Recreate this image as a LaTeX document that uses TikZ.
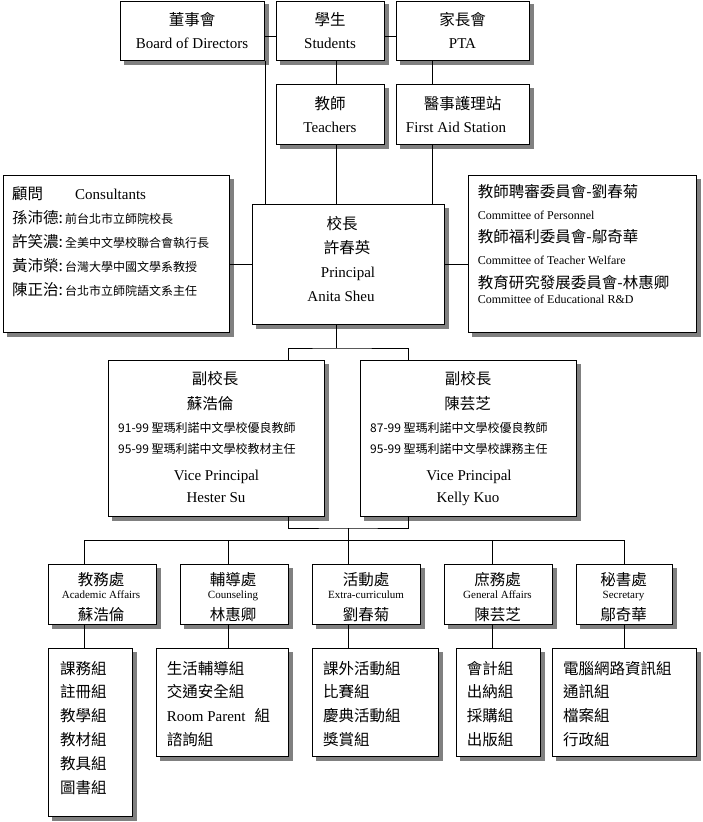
\documentclass[tikz,border=0pt]{standalone}
\usepackage{fontspec}
\setmainfont{Liberation Serif}
\newfontfamily\cjk{Noto Sans CJK TC}
\usetikzlibrary{backgrounds}
\definecolor{shgray}{RGB}{128,128,128}
\tikzset{
  bx/.style={draw=black, line width=1pt, fill=white, inner sep=0pt, anchor=north west},
  shadowbox/.style={fill=shgray, draw=none},
  conn/.style={draw, line width=1pt},
  txt/.style={inner sep=0pt, anchor=base},
  ltxt/.style={inner sep=0pt, anchor=base west},
  zh/.style={font=\cjk\fontsize{15.5}{18}\selectfont},
  zhs/.style={font=\cjk\fontsize{12}{14}\selectfont},
  en/.style={font=\fontsize{15}{18}\selectfont},
  ens/.style={font=\fontsize{12}{14}\selectfont},
  enx/.style={font=\fontsize{11}{13}\selectfont},
}
\newcommand{\mkbox}[5]{%
  \node[bx, minimum width={(#4-#2)*1pt}, minimum height={(#5-#3)*1pt}] (#1) at (#2,#3) {};%
  \begin{pgfonlayer}{background}%
    \fill[shadowbox] ([xshift=3.5pt,yshift=-3.5pt]#1.north west) rectangle ([xshift=4pt,yshift=-4pt]#1.south east);%
  \end{pgfonlayer}}
\begin{document}
\begin{tikzpicture}[x=1pt,y=-1pt]
\useasboundingbox (0,0) rectangle (702,822);
% ---------- boxes ----------
\mkbox{board}{120}{0.5}{264}{60}
\mkbox{students}{276}{0.5}{384}{60}
\mkbox{pta}{396}{0.5}{529}{60}
\mkbox{teachers}{276}{84}{384}{144}
\mkbox{firstaid}{396}{84}{529}{144}
\mkbox{consult}{3}{175}{229}{332}
\mkbox{principal}{252}{204}{444}{324}
\mkbox{committee}{468}{175}{696}{332}
\mkbox{vp1}{108}{360}{324}{516}
\mkbox{vp2}{360}{360}{576}{516}
\mkbox{d1}{48}{564}{156}{624}
\mkbox{d2}{180}{564}{288}{624}
\mkbox{d3}{312}{564}{420}{624}
\mkbox{d4}{444}{564}{552}{624}
\mkbox{d5}{576}{564}{672}{624}
\mkbox{s1}{48}{648}{132}{816}
\mkbox{s2}{156}{648}{288}{756}
\mkbox{s3}{312}{648}{438}{756}
\mkbox{s4}{456}{648}{540}{756}
\mkbox{s5}{552}{648}{696}{756}
% ---------- helper coordinates ----------
\coordinate (yT) at (0,36);
\coordinate (yM) at (0,264);
\coordinate (cS) at (336,0);
\coordinate (cP) at (432,0);
\coordinate (j1) at (336,348);
\coordinate (j2) at (348,528);
\coordinate (xv1) at (288,0);
\coordinate (xv2) at (408,0);
\coordinate (bus) at (0,540);
\coordinate (x1) at (84,0);
\coordinate (x2) at (228,0);
\coordinate (x3) at (348,0);
\coordinate (x4) at (492,0);
\coordinate (x5) at (624,0);
% ---------- connectors ----------
\draw[conn] (board.east |- yT) -- (students.west |- yT);
\draw[conn] (students.east |- yT) -- (pta.west |- yT);
\draw[conn] (students.south -| cS) -- (teachers.north -| cS);
\draw[conn] (pta.south -| cP) -- (firstaid.north -| cP);
\draw[conn] (board.south east) -- (principal.north -| board.south east);
\draw[conn] (teachers.south -| cS) -- (principal.north -| cS);
\draw[conn] (firstaid.south -| cP) -- (principal.north -| cP);
\draw[conn] (consult.east |- yM) -- (principal.west |- yM);
\draw[conn] (principal.east |- yM) -- (committee.west |- yM);
\draw[conn] (principal.south -| j1) -- (j1);
\draw[conn] (vp1.north -| xv1) |- (j1) -| (vp2.north -| xv2);
\draw[conn] (vp1.south -| xv1) |- (j2) -| (vp2.south -| xv2);
\draw[conn] (j2) -- (d3.north -| j2);
\draw[conn] (d1.north -| x1) -- (bus -| x1) -- (bus -| x5) -- (d5.north -| x5);
\draw[conn] (bus -| x2) -- (d2.north -| x2);
\draw[conn] (bus -| x4) -- (d4.north -| x4);
\draw[conn] (d1.south -| x1) -- (s1.north -| x1);
\draw[conn] (d2.south -| x2) -- (s2.north -| x2);
\draw[conn] (d3.south -| x3) -- (s3.north -| x3);
\draw[conn] (d4.south -| x4) -- (s4.north -| x4);
\draw[conn] (d5.south -| x5) -- (s5.north -| x5);
% ---------- top texts ----------
\node[txt,zh] (t1a) at (192,25) {董事會};
\node[txt,en] (t1b) at (192,48) {Board of Directors};
\node[txt,zh] (t2a) at (330,25) {學生};
\node[txt,en] (t2b) at (330,48) {Students};
\node[txt,zh] (t3a) at (462.5,25) {家長會};
\node[txt,en] (t3b) at (462.5,48) {PTA};
\node[txt,zh] (t4a) at (330,109) {教師};
\node[txt,en] (t4b) at (330,132) {Teachers};
\node[txt,zh] (t5a) at (462.5,109) {醫事護理站};
\node[txt,en] (t5b) at (456,132) {First Aid Station};
% ---------- consultants ----------
\node[ltxt,zh] (co1) at (12,199) {顧問};
\node[ltxt,en] (co1b) at (75,199) {Consultants};
\node[ltxt,zh] (co2) at (12,223) {孫沛德:\hspace{2pt}{\fontsize{12}{14}\selectfont 前台北市立師院校長}};
\node[ltxt,zh] (co3) at (12,247) {許笑濃:\hspace{2pt}{\fontsize{12}{14}\selectfont 全美中文學校聯合會執行長}};
\node[ltxt,zh] (co4) at (12,271) {黃沛榮:\hspace{2pt}{\fontsize{12}{14}\selectfont 台灣大學中國文學系教授}};
\node[ltxt,zh] (co5) at (12,295) {陳正治:\hspace{2pt}{\fontsize{12}{14}\selectfont 台北市立師院語文系主任}};
% ---------- principal ----------
\node[txt,zh] (p1) at (342,229.5) {校長};
\node[txt,zh] (p2) at (347,253) {許春英};
\node[txt,en] (p3) at (348,277) {Principal};
\node[txt,en] (p4) at (341,301) {Anita Sheu};
% ---------- committees ----------
\node[ltxt,zh] (cm1) at (477.7,197.5) {教師聘審委員會-劉春菊};
\node[ltxt,ens] (cm2) at (477.7,219) {Committee of Personnel};
\node[ltxt,zh] (cm3) at (477.7,242.5) {教師福利委員會-鄔奇華};
\node[ltxt,ens] (cm4) at (477.7,264.3) {Committee of Teacher Welfare};
\node[ltxt,zh] (cm5) at (477.7,288.5) {教育研究發展委員會-林惠卿};
\node[ltxt,ens] (cm6) at (477.7,303.3) {Committee of Educational R\&D};
% ---------- vice principals ----------
\node[txt,zh] (v1a) at (215,384) {副校長};
\node[txt,zh] (v1b) at (210,409) {蘇浩倫};
\node[ltxt,zhs] (v1c) at (118,432.7) {91-99 聖瑪利諾中文學校優良教師};
\node[ltxt,zhs] (v1d) at (118,453) {95-99 聖瑪利諾中文學校教材主任};
\node[txt,en] (v1e) at (216.5,480.7) {Vice Principal};
\node[txt,en] (v1f) at (216,502.7) {Hester Su};
\node[txt,zh] (v2a) at (468,384) {副校長};
\node[txt,zh] (v2b) at (467.5,409) {陳芸芝};
\node[ltxt,zhs] (v2c) at (370,432.7) {87-99 聖瑪利諾中文學校優良教師};
\node[ltxt,zhs] (v2d) at (370,453) {95-99 聖瑪利諾中文學校課務主任};
\node[txt,en] (v2e) at (469,480.7) {Vice Principal};
\node[txt,en] (v2f) at (468,502.7) {Kelly Kuo};
% ---------- departments ----------
\node[txt,zh] (d1a) at (101,585.7) {教務處};
\node[txt,enx] (d1b) at (101,598.3) {Academic Affairs};
\node[txt,zh] (d1c) at (101,620.2) {蘇浩倫};
\node[txt,zh] (d2a) at (233,585.7) {輔導處};
\node[txt,enx] (d2b) at (233,598.3) {Counseling};
\node[txt,zh] (d2c) at (233,620.2) {林惠卿};
\node[txt,zh] (d3a) at (366,585.7) {活動處};
\node[txt,enx] (d3b) at (366,598.3) {Extra-curriculum};
\node[txt,zh] (d3c) at (366,620.2) {劉春菊};
\node[txt,zh] (d4a) at (497.5,585.7) {庶務處};
\node[txt,enx] (d4b) at (497.5,598.3) {General Affairs};
\node[txt,zh] (d4c) at (497.5,620.2) {陳芸芝};
\node[txt,zh] (d5a) at (623.5,585.7) {秘書處};
\node[txt,enx] (d5b) at (623.5,598.3) {Secretary};
\node[txt,zh] (d5c) at (623.5,620.2) {鄔奇華};
% ---------- sections ----------
\foreach \t [count=\i] in {課務組,註冊組,教學組,教材組,教具組,圖書組}
  \node[ltxt,zh] (s1-\i) at (60,{674+23.8*(\i-1)}) {\t};
\node[ltxt,zh] (s2-1) at (166.7,674) {生活輔導組};
\node[ltxt,zh] (s2-2) at (166.7,697.8) {交通安全組};
\node[ltxt,zh] (s2-3) at (166.7,721) {{\rmfamily\fontsize{15}{18}\selectfont Room Parent}\hspace{9pt}組};
\node[ltxt,zh] (s2-4) at (166.7,745.4) {諮詢組};
\foreach \t [count=\i] in {課外活動組,比賽組,慶典活動組,獎賞組}
  \node[ltxt,zh] (s3-\i) at (323,{674+23.8*(\i-1)}) {\t};
\foreach \t [count=\i] in {會計組,出納組,採購組,出版組}
  \node[ltxt,zh] (s4-\i) at (466.7,{674+23.8*(\i-1)}) {\t};
\foreach \t [count=\i] in {電腦網路資訊組,通訊組,檔案組,行政組}
  \node[ltxt,zh] (s5-\i) at (563,{674+23.8*(\i-1)}) {\t};
\end{tikzpicture}
\end{document}
